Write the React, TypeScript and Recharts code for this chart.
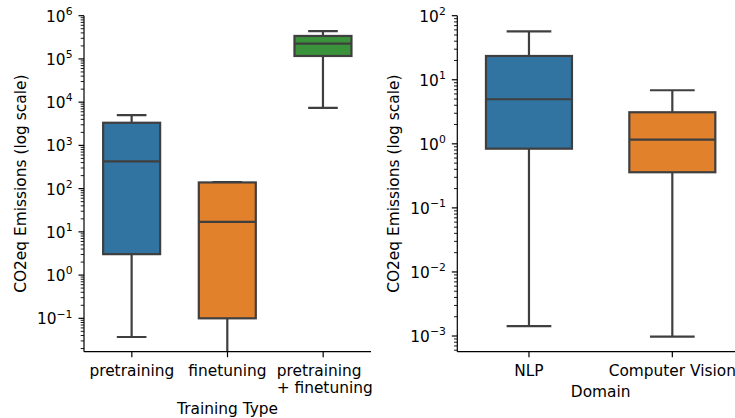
import React from 'react';
import { ComposedChart, Bar, XAxis, YAxis, Label } from 'recharts';

// ---------- data: left panel (Training Type) ----------
const trainingTypes = ['pretraining', 'finetuning', 'pretraining\n+ finetuning'];
const trainingMin = [0.037, 0.004, 7400];
const trainingQ1 = [3.05, 0.1, 117000];
const trainingMedian = [427, 17, 225000];
const trainingQ3 = [3340, 139, 340000];
const trainingMax = [5000, 141, 440000];

// ---------- data: right panel (Domain) ----------
const domains = ['NLP', 'Computer Vision'];
const domainMin = [0.00143, 0.00098];
const domainQ1 = [0.84, 0.36];
const domainMedian = [4.96, 1.16];
const domainQ3 = [23.5, 3.11];
const domainMax = [57, 6.86];

// ---------- ticks ----------
const leftMajorTicks = [0.1, 1, 10, 100, 1000, 10000, 100000, 1000000];
const rightMajorTicks = [0.001, 0.01, 0.1, 1, 10, 100];
const leftDomain = [0.0169, 1000000];
const rightDomain = [0.000569, 100];

const palette = ['#3274a1', '#e1812c', '#3a923a'];
const FONT = 'DejaVu Sans';
const FS = 15.4;
const EDGE = '#3f3f3f';

function logTicks(lo: number, hi: number): number[] {
  const out: number[] = [];
  const e0 = Math.floor(Math.log10(lo));
  const e1 = Math.ceil(Math.log10(hi));
  for (let e = e0; e <= e1; e++) {
    for (let m = 1; m < 10; m++) {
      const v = parseFloat((m * Math.pow(10, e)).toPrecision(6));
      if (v >= lo && v <= hi * 1.0001) out.push(v);
    }
  }
  return out;
}

const build = (names: string[], mn: number[], q1: number[], md: number[], q3: number[], mx: number[]) =>
  names.map((name, i) => ({ name, min: mn[i], q1: q1[i], median: md[i], q3: q3[i], max: mx[i] }));

const trainingData = build(trainingTypes, trainingMin, trainingQ1, trainingMedian, trainingQ3, trainingMax);
const domainData = build(domains, domainMin, domainQ1, domainMedian, domainQ3, domainMax);

const rangeKey = (d: any) => [d.min, d.max];

const BoxShape = (props: any) => {
  const { x, y, width, height, payload, index } = props;
  if (!payload) return null;
  const lmax = Math.log10(payload.max);
  const lmin = Math.log10(payload.min);
  const py = (v: number) => y + (height * (lmax - Math.log10(v))) / (lmax - lmin);
  const cx = x + width / 2;
  const cap = width * 0.52;
  const yMax = py(payload.max);
  const yQ3 = py(payload.q3);
  const yMed = py(payload.median);
  const yQ1 = py(payload.q1);
  const yMin = py(payload.min);
  const sw = 2.2;
  return (
    <g>
      <line x1={cx} x2={cx} y1={yMax} y2={yQ3} stroke={EDGE} strokeWidth={sw} />
      <line x1={cx} x2={cx} y1={yQ1} y2={yMin} stroke={EDGE} strokeWidth={sw} />
      <line x1={cx - cap / 2} x2={cx + cap / 2} y1={yMax} y2={yMax} stroke={EDGE} strokeWidth={sw} />
      <line x1={cx - cap / 2} x2={cx + cap / 2} y1={yMin} y2={yMin} stroke={EDGE} strokeWidth={sw} />
      <rect x={x} y={yQ3} width={width} height={yQ1 - yQ3} fill={palette[index % palette.length]} stroke={EDGE} strokeWidth={sw} />
      <line x1={x} x2={x + width} y1={yMed} y2={yMed} stroke={EDGE} strokeWidth={sw} />
    </g>
  );
};

const YTick = (props: any) => {
  const { x, y, payload } = props;
  const v = payload.value as number;
  const e = Math.round(Math.log10(v));
  const major = Math.abs(v - Math.pow(10, e)) < 1e-6 * Math.pow(10, e);
  const exp = e < 0 ? '\u2212' + String(-e) : String(e);
  return (
    <g>
      <line x1={x} x2={x - (major ? 5.5 : 3.3)} y1={y} y2={y} stroke="#000" strokeWidth={major ? 1.2 : 0.9} />
      {major && (
        <text x={x - 11.5} y={y + 6} textAnchor="end" fontFamily={FONT} fontSize={FS} fill="#000">
          10
          <tspan dy={-6.8} fontSize={10.8}>{exp}</tspan>
        </text>
      )}
    </g>
  );
};

const XTick = (props: any) => {
  const { x, y, payload } = props;
  const lines = String(payload.value).split('\n');
  if (lines.length === 1) {
    return (
      <text x={x} y={y + 16.5} textAnchor="middle" fontFamily={FONT} fontSize={FS} fill="#000">
        {lines[0]}
      </text>
    );
  }
  return (
    <text x={x - 46.5} y={y + 16.5} textAnchor="start" fontFamily={FONT} fontSize={FS} fill="#000">
      {lines.map((l, i) => (
        <tspan key={i} x={x - 46.5} dy={i === 0 ? 0 : 17}>
          {l}
        </tspan>
      ))}
    </text>
  );
};

const axisLine = { stroke: '#000', strokeWidth: 1.2 };

const yTitle = (tx: number) => (p: any) => {
  const vb = p.viewBox || {};
  const cy = (vb.y ?? 15.7) + (vb.height ?? 336) / 2;
  return (
    <text transform={`translate(${tx},${cy}) rotate(-90)`} textAnchor="middle" fontFamily={FONT} fontSize={FS} fill="#000">
      CO2eq Emissions (log scale)
    </text>
  );
};

const xTitle = (text: string, baseline: number) => (p: any) => {
  const vb = p.viewBox || {};
  const cx = (vb.x ?? 0) + (vb.width ?? 0) / 2;
  return (
    <text x={cx} y={baseline} textAnchor="middle" fontFamily={FONT} fontSize={FS} fill="#000">
      {text}
    </text>
  );
};

export default function App() {
  return (
    <div style={{ position: 'absolute', left: 0, top: 0, width: 735, height: 418, overflow: 'hidden', background: '#fff' }}>
      <div style={{ position: 'absolute', left: 0, top: 0 }}>
        <ComposedChart width={380} height={418} data={trainingData} margin={{ top: 15.7, right: 9, bottom: 0, left: 0 }} barCategoryGap="20%">
          <XAxis dataKey="name" type="category" height={66.3} interval={0} tickSize={5.5} tickMargin={2}
            axisLine={axisLine} tickLine={axisLine} tick={(p: any) => <XTick {...p} />}>
            <Label content={xTitle('Training Type', 413.5)} />
          </XAxis>
          <YAxis type="number" scale="log" domain={leftDomain} allowDataOverflow ticks={logTicks(leftDomain[0], leftDomain[1])}
            interval={0} width={84} tickSize={0} tickMargin={0} tickLine={false} axisLine={axisLine}
            tick={(p: any) => <YTick {...p} />}>
            <Label content={yTitle(25.5)} />
          </YAxis>
          <Bar dataKey={rangeKey} shape={(p: any) => <BoxShape {...p} />} isAnimationActive={false} />
        </ComposedChart>
      </div>
      <div style={{ position: 'absolute', left: 380, top: 0 }}>
        <ComposedChart width={369} height={418} data={domainData} margin={{ top: 15.7, right: 5, bottom: 0, left: 0 }} barCategoryGap="20%">
          <XAxis dataKey="name" type="category" height={66.3} interval={0} tickSize={5.5} tickMargin={2}
            axisLine={axisLine} tickLine={axisLine} tick={(p: any) => <XTick {...p} />}>
            <Label content={xTitle('Domain', 397)} />
          </XAxis>
          <YAxis type="number" scale="log" domain={rightDomain} allowDataOverflow ticks={logTicks(rightDomain[0], rightDomain[1])}
            interval={0} width={77.3} tickSize={0} tickMargin={0} tickLine={false} axisLine={axisLine}
            tick={(p: any) => <YTick {...p} />}>
            <Label content={yTitle(18.8)} />
          </YAxis>
          <Bar dataKey={rangeKey} shape={(p: any) => <BoxShape {...p} />} isAnimationActive={false} />
        </ComposedChart>
      </div>
    </div>
  );
}
